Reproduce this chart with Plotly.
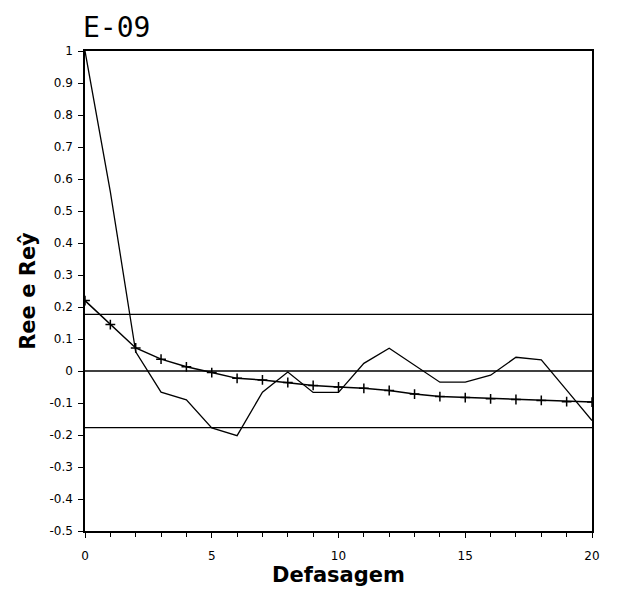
import plotly.graph_objects as go

lags = list(range(21))
ree = [1.0, 0.56, 0.06, -0.066, -0.09, -0.178, -0.202, -0.066, -0.003, -0.067, -0.067,
       0.024, 0.071, 0.017, -0.035, -0.035, -0.013, 0.043, 0.035, -0.06, -0.155]
rey = [0.22, 0.145, 0.072, 0.037, 0.013, -0.005, -0.023, -0.028, -0.036, -0.045, -0.05,
       -0.054, -0.061, -0.072, -0.08, -0.083, -0.087, -0.089, -0.092, -0.096, -0.097]
conf_limit = 0.177
ytick_vals = [1, 0.9, 0.8, 0.7, 0.6, 0.5, 0.4, 0.3, 0.2, 0.1, 0, -0.1, -0.2, -0.3, -0.4, -0.5]
ytick_text = ["1", "0.9", "0.8", "0.7", "0.6", "0.5", "0.4", "0.3", "0.2", "0.1", "0",
              "-0.1", "-0.2", "-0.3", "-0.4", "-0.5"]
xtick_vals = [0, 5, 10, 15, 20]

fig = go.Figure()
for lvl in [conf_limit, 0, -conf_limit]:
    fig.add_trace(go.Scatter(x=[0, 20], y=[lvl, lvl], mode="lines",
                             line=dict(color="black", width=1.3), hoverinfo="skip"))
fig.add_trace(go.Scatter(x=lags, y=ree, mode="lines",
                         line=dict(color="black", width=1.3)))
fig.add_trace(go.Scatter(x=lags, y=rey, mode="lines+markers",
                         line=dict(color="black", width=1.5),
                         marker=dict(symbol="cross-thin", size=7,
                                     line=dict(color="black", width=1.5))))

fig.update_layout(
    width=619, height=601,
    margin=dict(l=77, r=35, t=43, b=78),
    paper_bgcolor="white", plot_bgcolor="white",
    showlegend=False,
    font=dict(family="DejaVu Sans", color="black", size=12),
    title=dict(text="E-09", x=75/619, xanchor="left", y=1-19/601, yanchor="middle",
               font=dict(family="DejaVu Sans Mono", size=28, color="black")),
)
fig.update_xaxes(range=[0, 20], tickvals=xtick_vals, ticks="outside", ticklen=5,
                 ticklabelstandoff=8,
                 minor=dict(dtick=1, ticks="outside", ticklen=4, tickcolor="black"),
                 showgrid=False, zeroline=False, showline=True, linecolor="black",
                 linewidth=1.5, mirror=True, tickcolor="black",
                 title=dict(text="Defasagem", standoff=4,
                            font=dict(family="DejaVu Sans", size=21, weight="bold")))
fig.update_yaxes(range=[-0.5, 1], tickvals=ytick_vals, ticktext=ytick_text,
                 ticks="outside", ticklen=5, tickcolor="black", ticklabelstandoff=3,
                 showgrid=False, zeroline=False, showline=True, linecolor="black",
                 linewidth=1.5, mirror=True,
                 title=dict(text="Ree e Reŷ", standoff=8,
                            font=dict(family="DejaVu Sans", size=21, weight="bold")))
fig.write_html("out.html")
